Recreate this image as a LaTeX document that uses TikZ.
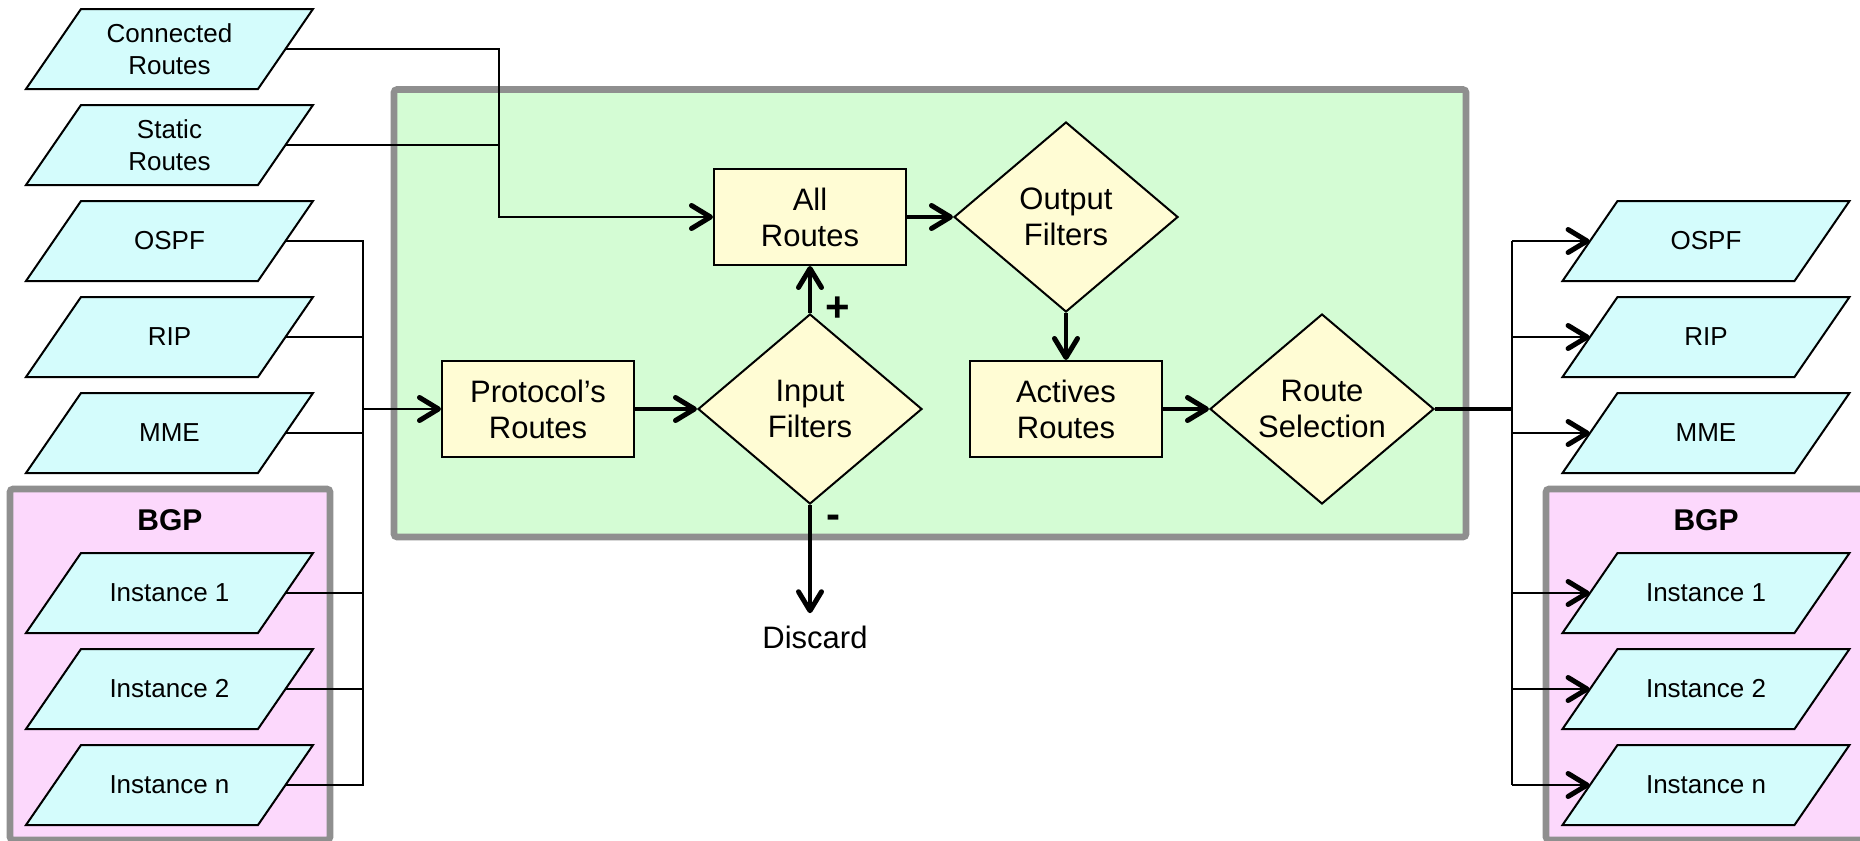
\documentclass[tikz,border=0pt]{standalone}
\usepackage{fontspec}
\setmainfont{Liberation Sans}
\usetikzlibrary{shapes.geometric,arrows.meta,calc}
\definecolor{boxgreen}{HTML}{D4FCD4}
\definecolor{boxpink}{HTML}{FCD8FC}
\definecolor{paracyan}{HTML}{D4FCFC}
\definecolor{procyellow}{HTML}{FFFCD4}
\definecolor{framegray}{HTML}{8F8F8F}
\newcommand\myparal[4]{%
  \draw[para] (#2,#3) ++(-143.5,40) -- ++(55,-80) -- ++(232,0) -- ++(-55,80) -- cycle;
  \node[paratext] (#1) at (#2,#3) {#4};}
\begin{document}
\begin{tikzpicture}[x=0.5pt,y=-0.5pt,
  >={Straight Barb[length=9.5pt,width=11.5pt,line width'=2.5pt 0,round]},
  frame/.style={draw=framegray,line width=3.3pt,rounded corners=1.5pt},
  procbox/.style={draw,line width=1pt,fill=procyellow,minimum width=96pt,minimum height=48pt,inner sep=0pt,align=center,font=\fontsize{15.5}{18}\selectfont},
  decision/.style={diamond,draw,line width=1pt,fill=procyellow,minimum width=112pt,minimum height=95pt,inner sep=0pt,aspect=1.18,align=center,font=\fontsize{15.5}{18}\selectfont},
  paratext/.style={minimum width=116pt,minimum height=40pt,inner sep=0pt,align=center,font=\fontsize{13}{15.8}\selectfont},
  para/.style={draw,line width=1pt,fill=paracyan},
  bgplabel/.style={font=\bfseries\fontsize{15}{18}\selectfont,inner sep=0pt},
  plaintext/.style={font=\fontsize{15.5}{18}\selectfont,inner sep=6pt},
  sign/.style={font=\bfseries\fontsize{21}{24}\selectfont,inner sep=0pt},
  thinline/.style={line width=1pt},
  thickline/.style={line width=1.7pt},
]
\useasboundingbox (0,0) rectangle (1860,841);
% frames
\draw[frame,fill=boxgreen] (394,89.5) rectangle (1466,537);
\draw[frame,fill=boxpink] (10,489) rectangle (330,840);
\draw[frame,fill=boxpink] (1546,489) rectangle (1890,840);
\node[bgplabel] (bgpl) at (170,520) {BGP};
\node[bgplabel] (bgpr) at (1706,520) {BGP};
% left inputs
\myparal{lcon}{169.5}{49}{Connected\\Routes}
\myparal{lsta}{169.5}{145}{Static\\Routes}
\myparal{lospf}{169.5}{241}{OSPF}
\myparal{lrip}{169.5}{337}{RIP}
\myparal{lmme}{169.5}{433}{MME}
\myparal{li1}{169.5}{593}{Instance 1}
\myparal{li2}{169.5}{689}{Instance 2}
\myparal{lin}{169.5}{785}{Instance n}
% right outputs
\myparal{rospf}{1706}{241}{OSPF}
\myparal{rrip}{1706}{337}{RIP}
\myparal{rmme}{1706}{433}{MME}
\myparal{ri1}{1706}{593}{Instance 1}
\myparal{ri2}{1706}{689}{Instance 2}
\myparal{rin}{1706}{785}{Instance n}
% process
\node[procbox] (all) at (810,217) {All\\Routes};
\node[decision] (outf) at (1066,217) {Output\\Filters};
\node[procbox] (proto) at (538,409) {Protocol’s\\Routes};
\node[decision] (inf) at (810,409) {Input\\Filters};
\node[procbox] (act) at (1066,409) {Actives\\Routes};
\node[decision] (rsel) at (1322,409) {Route\\Selection};
\node[plaintext] (dis) at (815,637) {Discard};
\node[sign] (plus) at (838,309) {+};
\node[sign] (minus) at (833,522) {-};
% junctions
\coordinate (jc) at (499,217);
\coordinate (jl) at (363,409);
\coordinate (jr) at (1512,409);
% left connectors
\draw[thinline,->] (lcon.east) -| (jc) -- (all.west);
\draw[thinline] (lsta.east) -- (lsta.east -| jc);
\draw[thinline,->] (lospf.east) -| (jl) -- (proto.west);
\draw[thinline] (lrip.east) -- (lrip.east -| jl);
\draw[thinline] (lmme.east) -- (lmme.east -| jl);
\draw[thinline] (li1.east) -- (li1.east -| jl);
\draw[thinline] (li2.east) -- (li2.east -| jl);
\draw[thinline] (lin.east) -| (jl);
% inner flow
\draw[thickline,->] (all.east) -- (outf.west);
\draw[thickline,->] (outf.south) -- (act.north);
\draw[thickline,->] (proto.east) -- (inf.west);
\draw[thickline,->] (inf.north) -- (all.south);
\draw[thickline,->] (act.east) -- (rsel.west);
\draw[thickline,->] (inf.south) -- (inf.south |- dis.north);
% right connectors
\draw[thickline] (rsel.east) -- (jr);
\draw[line width=1.4pt] (rospf.west -| jr) -- (rin.west -| jr);
\foreach \n in {rospf,rrip,rmme,ri1,ri2,rin}
  \draw[thinline,->] (\n.west -| jr) -- (\n.west);
\end{tikzpicture}
\end{document}
